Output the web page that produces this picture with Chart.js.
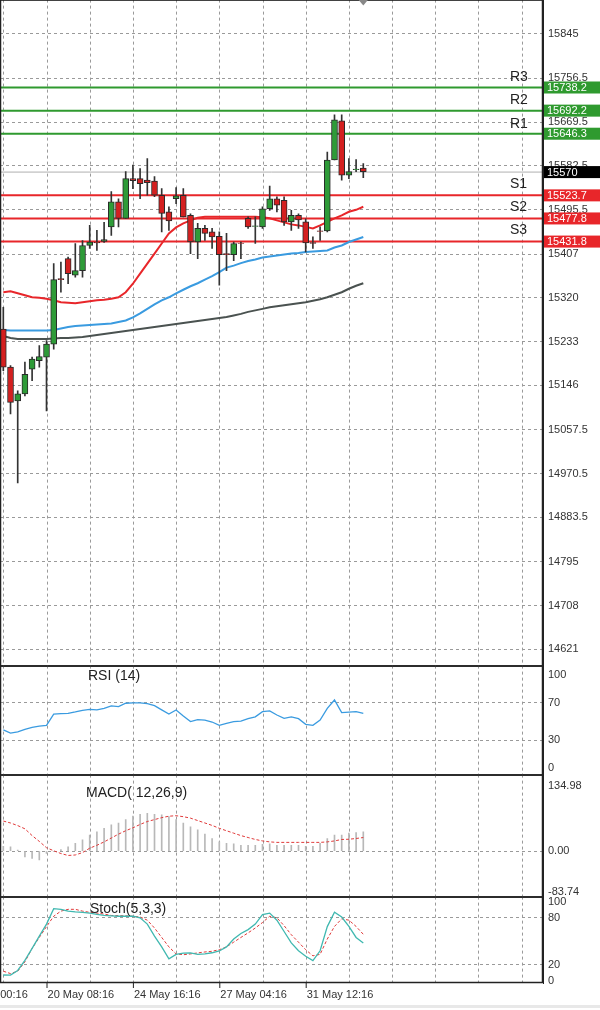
<!DOCTYPE html>
<html><head><meta charset="utf-8">
<script src="https://cdn.jsdelivr.net/npm/chart.js@4"></script>
<style>
body{margin:0;background:#fff;width:600px;height:1010px;overflow:hidden;position:relative;font-family:"Liberation Sans",Arial,sans-serif}
canvas{position:absolute;left:0}
</style></head><body>
<canvas id="cMain" style="top:-12px"></canvas>
<canvas id="cRsi" style="top:654px"></canvas>
<canvas id="cMacd" style="top:763px"></canvas>
<canvas id="cSto" style="top:885px"></canvas>
<script>
const openP=[15258,15182,15115,15129,15178,15195,15202,15228,15358,15398,15365,15374,15424,15431,15432,15461,15511,15478,15557,15557,15554,15552,15524,15491,15517,15524,15484,15431,15458,15451,15442,15408,15406,15429,15478,15462,15461,15497,15517,15514,15471,15484,15471,15430,15453,15453,15594,15672,15564,15575,15578];
const closeP=[15182,15112,15129,15168,15198,15203,15228,15356,15356,15368,15374,15424,15431,15429,15436,15511,15478,15557,15553,15547,15549,15524,15488,15473,15523,15481,15431,15458,15448,15441,15406,15406,15428,15428,15461,15462,15497,15517,15504,15471,15484,15475,15429,15428,15452,15594,15674,15564,15571,15576,15571];
const highP=[15301,15185,15135,15192,15202,15225,15235,15388,15391,15401,15428,15434,15464,15454,15470,15531,15517,15571,15584,15577,15597,15561,15537,15501,15539,15537,15487,15468,15464,15458,15451,15448,15431,15431,15481,15481,15501,15542,15521,15521,15494,15487,15477,15441,15461,15610,15684,15684,15597,15595,15587];
const lowP=[15175,15089,14952,15125,15155,15182,15095,15218,15331,15348,15361,15361,15418,15414,15430,15444,15461,15478,15537,15517,15524,15521,15451,15454,15507,15481,15408,15398,15434,15418,15345,15374,15394,15398,15458,15428,15458,15494,15491,15464,15454,15458,15411,15418,15434,15451,15594,15554,15557,15571,15559];
const maRed=[15331,15333,15329,15325,15321,15320,15318,15315,15311,15310,15309,15311,15313,15315,15316,15318,15321,15331,15348,15368,15388,15408,15428,15448,15460,15468,15474,15479,15481,15481,15481,15481,15481,15481,15481,15481,15480,15478,15474,15470,15466,15464,15461,15458,15464,15471,15478,15484,15491,15495,15501];
const maBlue=[15256,15255,15255,15255,15255,15255,15255,15256,15259,15262,15264,15265,15266,15267,15268,15269,15272,15275,15281,15289,15298,15307,15315,15321,15329,15336,15343,15349,15356,15363,15371,15380,15384,15389,15393,15396,15400,15402,15404,15406,15408,15409,15411,15412,15413,15414,15420,15424,15431,15436,15441];
const maGray=[15244,15240,15238,15238,15238,15238,15238,15239,15240,15240,15241,15242,15244,15246,15248,15250,15252,15254,15256,15258,15260,15262,15264,15266,15268,15270,15272,15274,15276,15278,15280,15282,15285,15288,15292,15295,15298,15301,15303,15305,15307,15309,15311,15314,15317,15321,15326,15331,15338,15344,15349];
const levelNames=['R3','R2','R1','S1','S2','S3'];
const levelValues=[15738.2,15692.2,15646.3,15523.7,15477.8,15431.8];
const lastPrice=15570;
const priceTicks=[15845,15756.5,15669.5,15582.5,15495.5,15407,15320,15233,15146,15057.5,14970.5,14883.5,14795,14708,14621];
const rsi=[41,37.6,39,41.6,43.7,45,46,58,58.4,58.8,60.2,62,63,62.4,64,66.7,66,69.5,70,70,69,67,62.4,58,62.4,56,50,52,51.6,49.5,46,48,50,50.5,53,55,60.5,61.3,57,53.4,55,53,47,46,51.6,64,73,59.5,60,60.5,58.8];
const rsiTicks=[100,70,30,0];
const macdHist=[10,9,2,-12,-15,-18,-5,-1,3,9,16,23,33,40,47,54,58,65,72,76,78,76,75,71,65,58,50,44,35,26,19,16,15,12,12,12,14,15,12,12,12,12,10,10,16,26,33,33,37,38,40];
const macdSignal=[62,58,52.6,46,32,20,7,0.7,-5,-9,-8,-3,6,12,19,27,35,42,48,55,61,65,69,72,73,71,68,63,58,53,47,42,37,32,28,24,21,19,18,18,18,18,18,18,18,19,21,24,24.5,26,28];
const macdTicks=[134.98,0,-83.74];
const stochMain=[7.2,7,13,25.8,41,56.7,72,91.6,90.8,88.6,87.5,87,86,84.3,83,82.5,82,82,82,80,72,56.7,43,27.7,33.5,35,35.3,33.5,34,35.5,37.8,43,53,60,65,72,84,86,77,62.6,48,38,31,25.6,38,68.8,87,81,69,55,48];
const stochSignal=[12,9,12,24,41,55,68.8,82,88.5,90.8,90.8,88.5,87,86,84.8,83,82.8,82.5,82,81,77,67,55,43,34,33,34,35.3,36.5,37.4,39.4,43,49,55,60.8,67,74,82,80,70,58.5,49,39.4,31.6,33.5,53,69,78.7,77,69,59];
const stochTicks=[100,80,20,0];
const xTickIdx=[-6,6,18,30,42];
const xTickLabels=['17 May 00:16','20 May 08:16','24 May 16:16','27 May 04:16','31 May 12:16'];

const FONT='"Liberation Sans",Arial,sans-serif';
const XMIN=-0.46,XMAX=74.96;
const pts=a=>a.map((v,i)=>({x:i,y:v}));
const GREEN='#2f9a2f',RED='#e8262a';

function xScale(){return{type:'linear',min:XMIN,max:XMAX,display:false,offset:false};}
function yScale(min,max,ticks,fmt,gridFilter){return{type:'linear',position:'right',min:min,max:max,
  afterBuildTicks:s=>{s.ticks=ticks.map(v=>({value:v}));},
  afterFit:s=>{s.width=57;},
  grid:{color:c=>gridFilter&&!gridFilter(c.tick&&c.tick.value)?'rgba(0,0,0,0)':'#9a9a9a',drawTicks:false},
  border:{display:true,color:'#222',dash:[3,3]},
  ticks:{padding:5,color:'#333',font:{family:FONT,size:11},callback:fmt,autoSkip:false}};}

const framePlugin={id:'frame',beforeDatasetsDraw(ch){const a=ch.chartArea,c=ch.ctx,xs=ch.scales.x;c.save();
  c.strokeStyle='#9a9a9a';c.lineWidth=1;c.setLineDash([3,3]);
  for(let v=0;v<=XMAX;v+=6){const x=Math.round(xs.getPixelForValue(v))+0.5;c.beginPath();c.moveTo(x,a.top);c.lineTo(x,a.bottom);c.stroke();}
  c.restore();},
  afterDraw(ch){const a=ch.chartArea,c=ch.ctx;c.save();c.strokeStyle='#222';c.lineWidth=1.5;c.strokeRect(a.left+0.5,a.top+0.5,a.right-a.left-1,a.bottom-a.top-1);c.restore();}};
function titlePlugin(txt,x,y){return{id:'title'+txt,afterDraw(ch){const c=ch.ctx;c.save();c.font='14px '+FONT;c.fillStyle='#222';c.textBaseline='middle';c.fillText(txt,x,ch.chartArea.top+y);c.restore();}};}
const baseOpts=(scales,pad)=>({responsive:false,animation:false,maintainAspectRatio:false,
  layout:{padding:pad||0},plugins:{legend:{display:false},tooltip:{enabled:false}},scales:scales});

function mk(id,h){const c=document.getElementById(id);c.width=600;c.height=h;c.style.width='600px';c.style.height=h+'px';return c;}

// ---- main ----
const levelDs=levelValues.map((v,i)=>({type:'line',data:[{x:XMIN,y:v},{x:XMAX,y:v}],borderColor:i<3?GREEN:RED,borderWidth:2,pointRadius:0,order:5}));
const mainPlugin={id:'mainExtras',afterDraw(ch){
  const c=ch.ctx,ys=ch.scales.y,xs=ch.scales.x,a=ch.chartArea;c.save();
  c.font='14px '+FONT;c.fillStyle='#222';c.textBaseline='bottom';
  levelValues.forEach((v,i)=>{const y=ys.getPixelForValue(v);c.fillText(levelNames[i],510,y-(i<3?3:4));});
  c.font='11px '+FONT;c.textBaseline='middle';
  const box=(v,bg,txt)=>{const y=ys.getPixelForValue(v);c.fillStyle=bg;c.fillRect(a.right+1,y-6,56,12);c.fillStyle='#fff';c.fillText(txt,a.right+4,y+0.5);};
  levelValues.forEach((v,i)=>box(v,i<3?GREEN:RED,v.toFixed(1)));
  box(lastPrice,'#000',String(lastPrice));
  const tx=xs.getPixelForValue(50);c.fillStyle='#888';c.beginPath();c.moveTo(tx-5,a.top);c.lineTo(tx+5,a.top);c.lineTo(tx,a.top+6);c.fill();
  c.restore();}};
new Chart(mk('cMain',690),{type:'bar',data:{datasets:[
  ...levelDs,
  {type:'line',data:[{x:XMIN,y:lastPrice},{x:XMAX,y:lastPrice}],borderColor:'#b0b0b0',borderWidth:1,pointRadius:0,order:6},
  {type:'line',data:pts(maGray),borderColor:'#4a5250',borderWidth:2,pointRadius:0,order:4},
  {type:'line',data:pts(maBlue),borderColor:'#3a9be0',borderWidth:2,pointRadius:0,order:4},
  {type:'line',data:pts(maRed),borderColor:'#e8262a',borderWidth:2,pointRadius:0,order:4},
  {type:'bar',data:lowP.map((l,i)=>({x:i,y:[l,highP[i]]})),backgroundColor:'#333',barThickness:1,grouped:false,order:3},
  {type:'bar',data:openP.map((o,i)=>({x:i,y:[Math.min(o,closeP[i]),Math.max(o,closeP[i])===Math.min(o,closeP[i])?Math.max(o,closeP[i])+1:Math.max(o,closeP[i])]})),
   backgroundColor:openP.map((o,i)=>closeP[i]>=o?'#2e9b38':'#d42020'),borderColor:'#2a2a2a',borderWidth:1,borderSkipped:false,barThickness:6,grouped:false,order:2}
]},options:baseOpts({x:xScale(),y:yScale(14587,15913,priceTicks,v=>String(v))}),plugins:[framePlugin,mainPlugin]});

// ---- RSI ----
new Chart(mk('cRsi',133),{type:'line',data:{datasets:[
  {data:pts(rsi),borderColor:'#3a9be0',borderWidth:1.3,pointRadius:0}]},
  options:baseOpts({x:xScale(),y:yScale(-7.5,109.7,rsiTicks,v=>String(v),v=>v===70||v===30)}),
  plugins:[framePlugin,titlePlugin('RSI (14)',88,11)]});

// ---- MACD ----
new Chart(mk('cMacd',146),{type:'bar',data:{datasets:[
  {type:'bar',data:pts(macdHist),backgroundColor:'#b8b8b8',barThickness:1,order:2},
  {type:'line',data:pts(macdSignal),borderColor:'#e03a3a',borderWidth:1,borderDash:[3,2],pointRadius:0,order:1}]},
  options:baseOpts({x:xScale(),y:yScale(-95.5,157.8,macdTicks,v=>v.toFixed(2),v=>v===0)}),
  plugins:[framePlugin,titlePlugin('MACD( 12,26,9)',86,19)]});

// ---- Stoch ----
const stoPlugin={id:'stoX',afterDraw(ch){const c=ch.ctx,xs=ch.scales.x,a=ch.chartArea;c.save();
  c.font='11px '+FONT;c.fillStyle='#333';c.textBaseline='top';
  xTickIdx.forEach((v,i)=>{const x=xs.getPixelForValue(v);c.fillText(xTickLabels[i],x+1,a.bottom+6);
    c.strokeStyle='#222';c.beginPath();c.moveTo(x+0.5,a.bottom);c.lineTo(x+0.5,a.bottom+5);c.stroke();});
  c.fillStyle='#e8e8e8';c.fillRect(0,a.bottom+22,600,3);
  c.restore();}};
new Chart(mk('cSto',125),{type:'line',data:{datasets:[
  {data:pts(stochMain),borderColor:'#40b8b0',borderWidth:1.3,pointRadius:0},
  {data:pts(stochSignal),borderColor:'#e03a3a',borderWidth:1,borderDash:[3,2],pointRadius:0}]},
  options:baseOpts({x:xScale(),y:yScale(-3,107,stochTicks,v=>String(v),v=>v===80||v===20)},{bottom:27}),
  plugins:[framePlugin,stoPlugin,titlePlugin('Stoch(5,3,3)',90,13)]});
</script></body></html>
